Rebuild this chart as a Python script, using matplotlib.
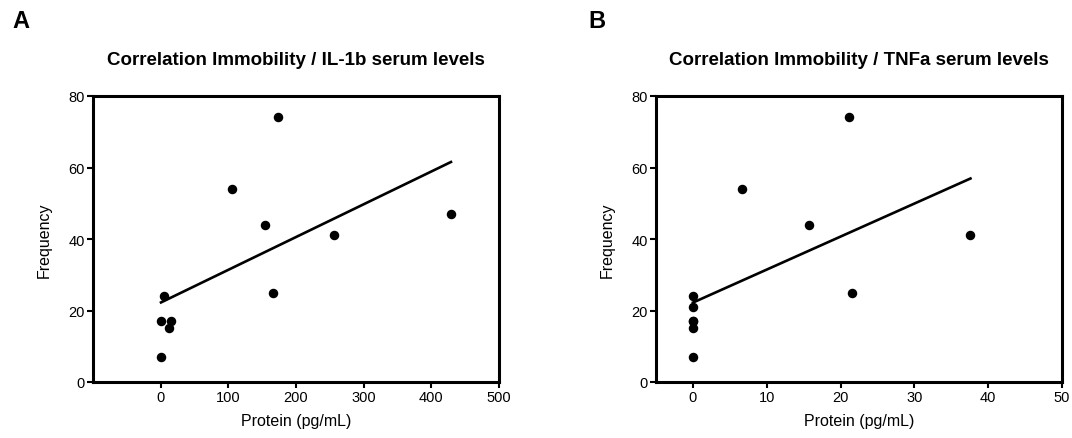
import numpy as np
import matplotlib.pyplot as plt

plt.rcParams['font.family'] = ['Liberation Sans', 'DejaVu Sans']

# panel A: IL-1b
il1b_protein = [173, 105, 154, 256, 429, 166.5, 4.4, 0.5, 15, 12, 1]
il1b_freq = [74, 54, 44, 41, 47, 25, 24, 17, 17, 15, 7]

# panel B: TNFa
tnfa_protein = [21.1, 6.6, 15.75, 37.6, 21.5, 0, 0, 0, 0, 0, 0]
tnfa_freq = [74, 54, 44, 41, 25, 24, 21, 17, 17, 15, 7]

panels = [
    ("A", "Correlation Immobility / IL-1b serum levels", il1b_protein, il1b_freq,
     (-100, 500), [0, 100, 200, 300, 400, 500]),
    ("B", "Correlation Immobility / TNFa serum levels", tnfa_protein, tnfa_freq,
     (-5, 50), [0, 10, 20, 30, 40, 50]),
]
y_ticks = [0, 20, 40, 60, 80]

fig = plt.figure(figsize=(10.72, 4.39), dpi=100)
ax_lefts = [93 / 1072, 656 / 1072]
letter_xs = [12 / 1072, 588 / 1072]

for i, (letter, title, xs, ys, xlim, xticks) in enumerate(panels):
    ax = fig.add_axes([ax_lefts[i], 1 - 383 / 439, 406 / 1072, 286 / 439])
    xs = np.array(xs)
    ys = np.array(ys)
    ax.scatter(xs, ys, s=34, color='black', zorder=3, clip_on=False)
    slope, intercept = np.polyfit(xs, ys, 1)
    fx = np.array([xs.min(), xs.max()])
    ax.plot(fx, intercept + slope * fx, color='black', lw=1.9)

    ax.set_xlim(*xlim)
    ax.set_ylim(0, 80)
    ax.set_xticks(xticks)
    ax.set_yticks(y_ticks)
    for sp in ax.spines.values():
        sp.set_linewidth(2.2)
    ax.tick_params(direction='out', length=4, width=1.5, labelsize=10.5, pad=2)
    ax.set_xlabel("Protein (pg/mL)", fontsize=11.5, labelpad=6)
    ax.set_ylabel("Frequency", fontsize=11.5, labelpad=12)
    ax.set_title(title, fontsize=13.5, fontweight='bold', pad=23)

    fig.text(letter_xs[i], 1 - 22 / 439, letter,
             fontsize=17, fontweight='bold', ha='left', va='center')

fig.savefig("out.png", dpi=100)
